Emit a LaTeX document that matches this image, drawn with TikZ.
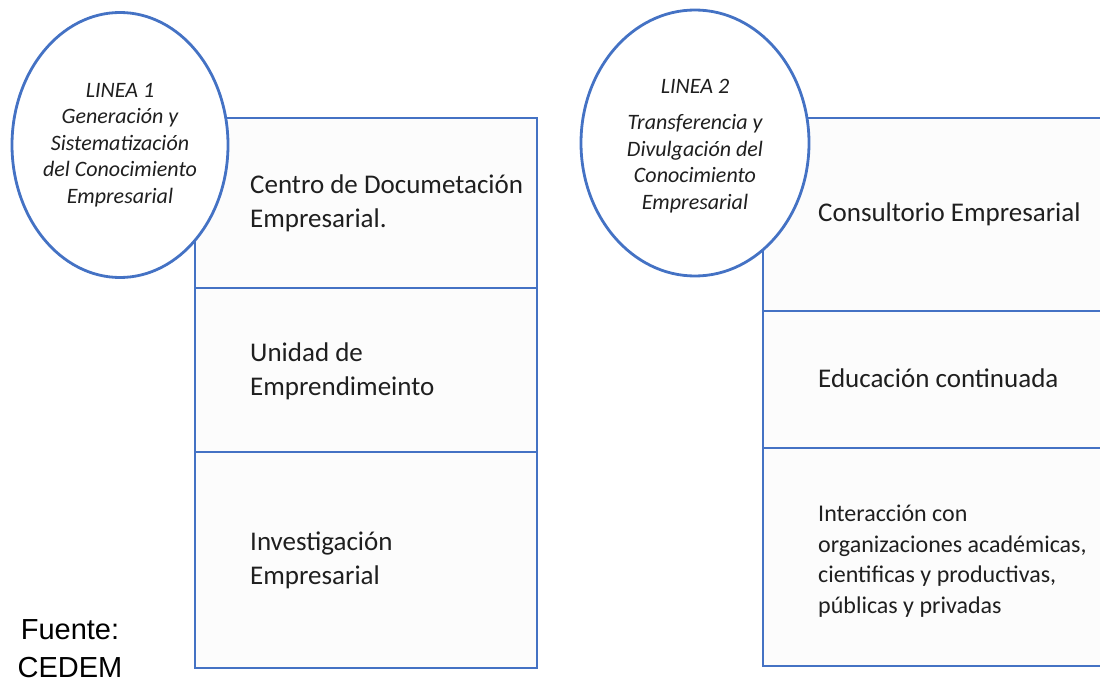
\documentclass[tikz,border=0pt]{standalone}
\usepackage{fontspec}
\setmainfont{Carlito}
\newfontfamily\fuentefont{Liberation Sans}
\usepackage{xcolor}
\definecolor{linea_azul}{RGB}{68,114,196}
\definecolor{celda_gris}{RGB}{252,252,252}
\usetikzlibrary{positioning, calc, shapes.geometric}
\tikzset{
  celda/.style={draw=linea_azul, line width=2.8pt, fill=celda_gris, anchor=north west, inner sep=0pt, outer sep=0pt},
  linea/.style={ellipse, draw=linea_azul, line width=2.8pt, fill=white, inner sep=0pt, outer sep=0pt},
  lineatexto/.style={align=center, text=black!88, font=\fontsize{22}{26.5}\selectfont\itshape},
  texto/.style={anchor=west, align=left, inner sep=0pt, text=black!88, font=\fontsize{27}{34}\selectfont},
  textochico/.style={texto, font=\fontsize{24}{30.5}\selectfont}
}

\begin{document}
\begin{tikzpicture}[x=1pt,y=-1pt]
  \useasboundingbox (0,0) rectangle (1100,682);
  %columna izquierda
  \node[celda, minimum width=342pt, minimum height=170pt] (c1) at (195,118) {};
  \node[celda, minimum width=342pt, minimum height=164pt] (c2) at (c1.south west) {};
  \node[celda, minimum width=342pt, minimum height=216pt] (c3) at (c2.south west) {};
  %columna derecha
  \node[celda, minimum width=352pt, minimum height=193pt] (d1) at (763,118) {};
  \node[celda, minimum width=352pt, minimum height=137pt] (d2) at (d1.south west) {};
  \node[celda, minimum width=352pt, minimum height=218pt] (d3) at (d2.south west) {};
  %lineas
  \node[linea, minimum width=216pt, minimum height=265pt] (l1) at (120,145) {};
  \node[linea, minimum width=228pt, minimum height=266pt] (l2) at (695,143) {};
  \node[lineatexto] (lt1) at (l1) {LINEA 1\\Generación y\\Sistematización\\del Conocimiento\\Empresarial};
  \node[lineatexto] (lt2) at ([yshift=-3pt]l2) {LINEA 2\\[10pt]Transferencia y\\Divulgación del\\Conocimiento\\Empresarial};
  %textos de celdas
  \node[texto] (t1) at ([xshift=55pt]c1.west) {Centro de Documetación\\Empresarial.};
  \node[texto] (t2) at ([xshift=55pt,yshift=-1pt]c2.west) {Unidad de\\Emprendimeinto};
  \node[texto] (t3) at ([xshift=55pt]c3.west) {Investigación\\Empresarial};
  \node[texto] (u1) at ([xshift=55pt]d1.west) {Consultorio Empresarial};
  \node[texto] (u2) at ([xshift=55pt,yshift=1pt]d2.west) {Educación continuada};
  \node[textochico] (u3) at ([xshift=55pt,yshift=-4pt]d3.west) {Interacción con\\organizaciones académicas,\\cientificas y productivas,\\públicas y privadas};
  %fuente
  \node[align=center, inner sep=0pt, font=\fuentefont\fontsize{29}{38}\selectfont] (fuente) at (70,649) {Fuente:\\CEDEM};
\end{tikzpicture}
\end{document}
